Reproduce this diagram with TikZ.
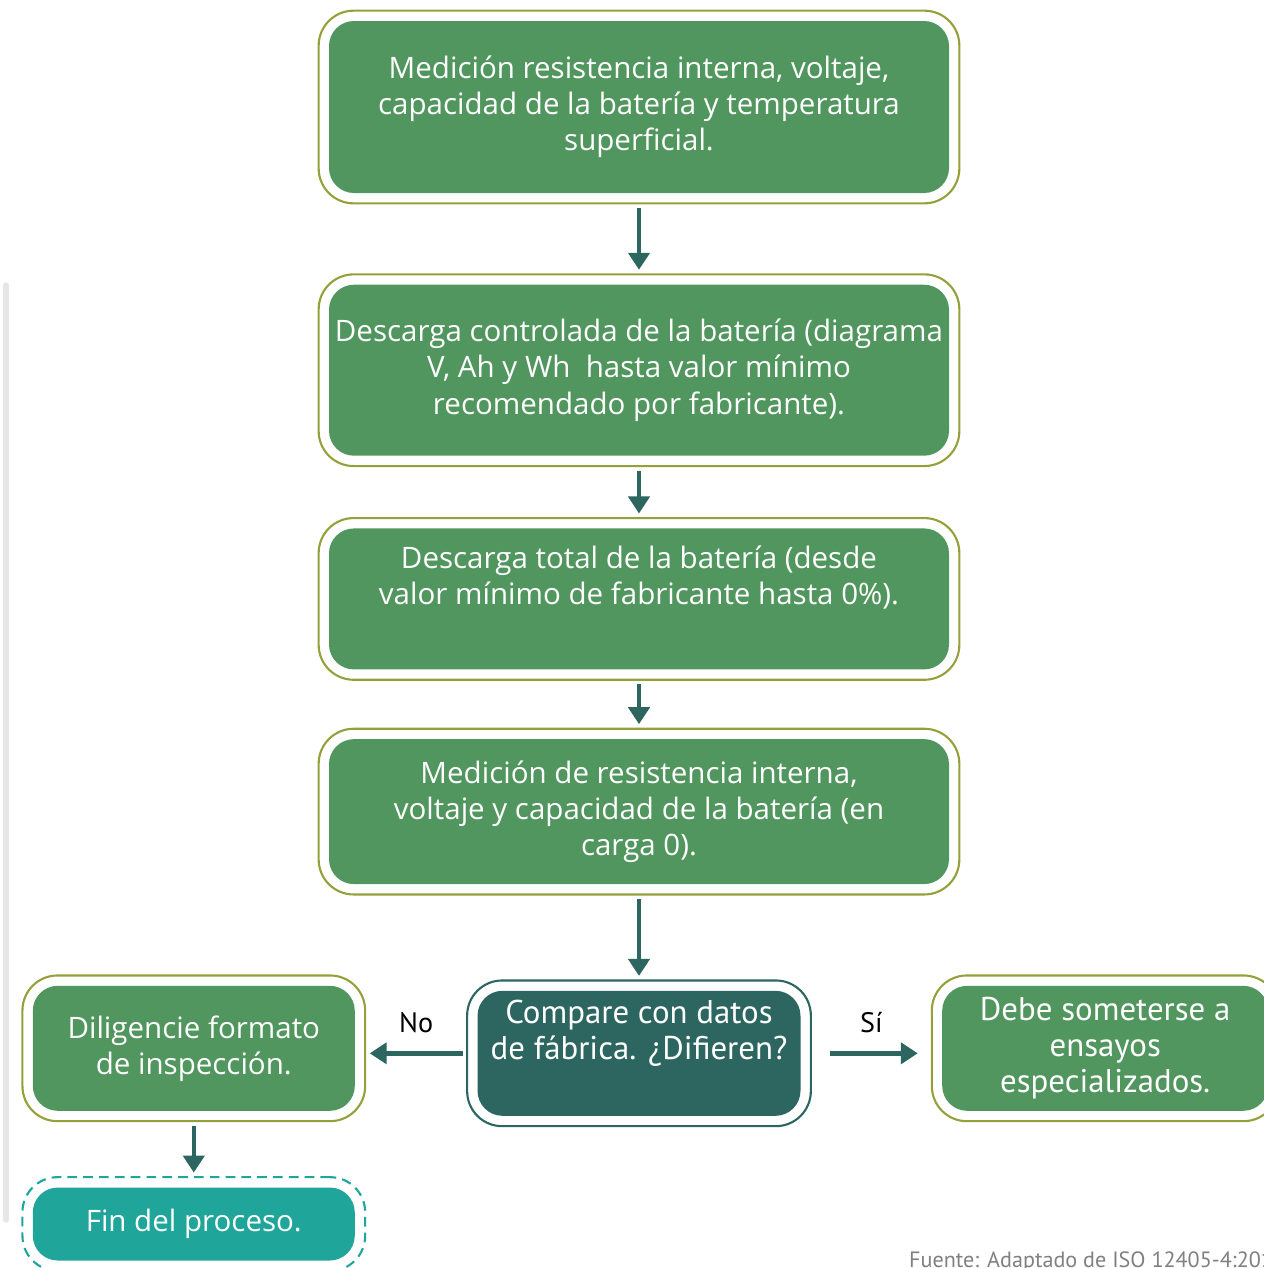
\documentclass[tikz,border=0pt]{standalone}
\usepackage{fontspec}
\setmainfont{Open Sans}
\newfontfamily\angosta{PT Sans}
\usetikzlibrary{arrows.meta, positioning, fit}
\definecolor{verde}{RGB}{81,150,94}
\definecolor{oliva}{RGB}{150,160,58}
\definecolor{petroleo}{RGB}{45,102,96}
\definecolor{turquesa}{RGB}{31,165,153}
\definecolor{grisborde}{RGB}{230,230,230}
\definecolor{gristexto}{RGB}{128,128,128}

\begin{document}
\begin{tikzpicture}[caja/.style={fill=verde, text=white, rounded corners=0.5cm, align=center, inner sep=0pt,
            font=\fontsize{16.8}{20.5}\selectfont},
        ancha/.style={caja, minimum width=12.4cm},
        estrecha/.style={font=\angosta\fontsize{18.7}{20.5}\selectfont},
        marco/.style={draw=oliva, line width=1.2pt, rounded corners=0.7cm, inner sep=0.2cm},
        flecha/.style={-{Triangle[width=0.42cm,length=0.34cm]}, line width=2.6pt, draw=petroleo,
            shorten <=2pt, shorten >=2pt},
        etiqueta/.style={font=\angosta\fontsize{16}{18}\selectfont}]
        \useasboundingbox (0,0) rectangle (25.28,-25.36);
        \draw[grisborde, line width=3pt, line cap=round] (0.12,-5.7) -- (0.12,-24.4);

        % columna central
        \node[ancha, minimum height=3.44cm] (b1) at (12.78,-2.14)
            {Medición resistencia interna, voltaje,\\capacidad de la batería y temperatura\\superficial.};
        \node[ancha, minimum height=3.42cm, below=1.82cm of b1] (b2)
            {Descarga controlada de la batería (diagrama\\V, Ah y Wh\ \ hasta valor mínimo\\recomendado por fabricante).};
        \node[ancha, minimum height=2.82cm, below=1.44cm of b2] (b3)
            {Descarga total de la batería (desde\\valor mínimo de fabricante hasta 0\%).\\\strut};
        \node[ancha, minimum height=2.9cm, below=1.38cm of b3] (b4)
            {Medición de resistencia interna,\\voltaje y capacidad de la batería (en\\carga 0).};
        \node[caja, estrecha, fill=petroleo, minimum width=6.46cm, minimum height=2.5cm, below=2.12cm of b4] (dec)
            {Compare con datos\\de fábrica. ¿Difieren?\\\strut};

        % ramas
        \node[caja, minimum width=6.44cm, minimum height=2.5cm, left=2.44cm of dec, yshift=0.1cm] (izq)
            {Diligencie formato\\de inspección.};
        \node[caja, estrecha, minimum width=6.52cm, minimum height=2.5cm, right=2.82cm of dec, yshift=0.1cm] (der)
            {Debe someterse a\\ensayos\\especializados.};
        \node[caja, fill=turquesa, minimum width=6.44cm, minimum height=1.46cm, below=1.52cm of izq] (fin)
            {Fin del proceso.};

        \foreach \c in {b1, b2, b3, b4, izq, der}
        \node[marco, fit=(\c)] (m\c) {};
        \node[marco, draw=petroleo, fit=(dec)] (mdec) {};
        \node[marco, draw=turquesa, dashed, dash pattern=on 5.5pt off 3.5pt, fit=(fin)] (mfin) {};

        \draw[flecha] (mb1) -- (mb2);
        \draw[flecha] (mb2) -- (mb3);
        \draw[flecha] (mb3) -- (mb4);
        \draw[flecha] (mb4) -- (mdec);
        \draw[flecha] (mdec.west) -- (mdec.west -| mizq.east) node[etiqueta, midway, above=0.25cm] (no) {No};
        \draw[flecha, shorten <=0.36cm, shorten >=0.26cm] (mdec.east) -- (mdec.east -| mder.west)
            node[etiqueta, midway, above=0.25cm] (si) {Sí};
        \draw[flecha] (mizq) -- (mfin);

        \node[anchor=base west, text=gristexto, font=\angosta\fontsize{12.6}{15}\selectfont] (fuente)
            at (18.06,-25.34) {Fuente: Adaptado de ISO 12405-4:2018};
      \end{tikzpicture}
\end{document}
